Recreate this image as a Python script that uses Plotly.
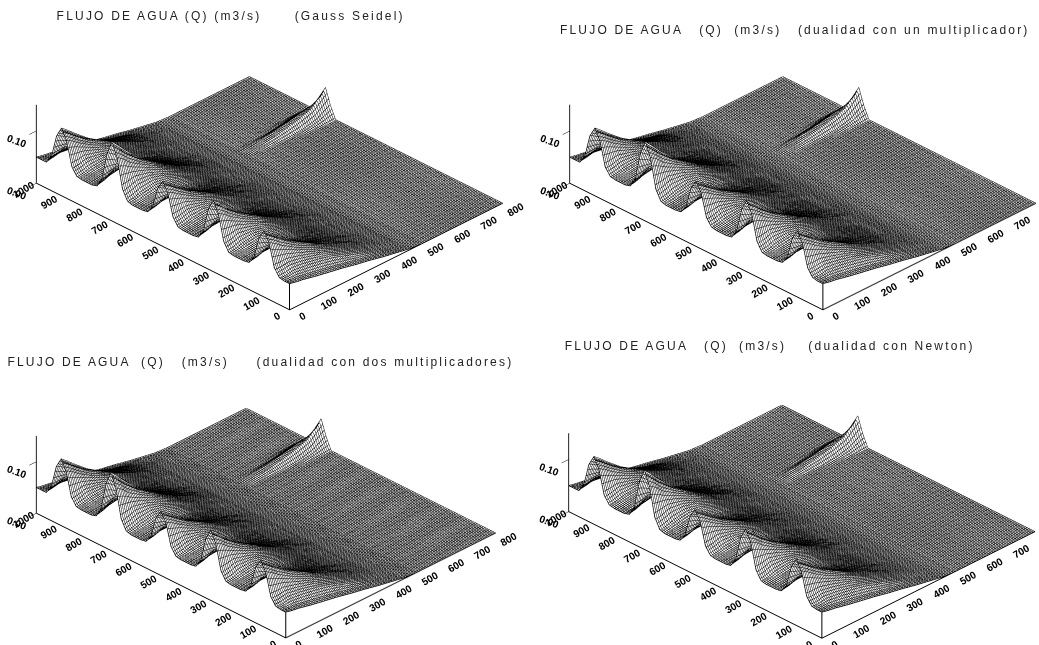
import numpy as np
import plotly.graph_objects as go

TITLES = [
    "FLUJO DE AGUA (Q) (m3/s)      (Gauss Seidel)",
    "FLUJO DE AGUA   (Q)  (m3/s)   (dualidad con un multiplicador)",
    "FLUJO DE AGUA  (Q)   (m3/s)     (dualidad con dos multiplicadores)",
    "FLUJO DE AGUA   (Q)  (m3/s)    (dualidad con Newton)",
]
X_GRID = [0, 25, 50, 100, 150, 200, 250, 300, 350, 400, 450, 500, 550, 600, 650, 700, 750, 800]
Y_GRID = list(range(0, 1001, 20))
X_TICKS = [0, 100, 200, 300, 400, 500, 600, 700, 800]
Y_TICKS = [0, 100, 200, 300, 400, 500, 600, 700, 800, 900, 1000]
Z_TICKS = [0.0, 0.10]
Z_TICK_TEXT = ["0.00", "0.10"]
STUB_Z = [0.0, 0.05]

# Q in thousandths of m3/s, one row per y value, one column per x value
Q_MILLI = [
    [50,47,45,39,34,29,23,18,12,7,2,0,0,0,0,0,0,0],
    [50,48,47,42,37,31,25,19,13,7,2,0,0,0,0,0,0,0],
    [52,52,55,52,47,41,32,23,14,7,2,0,0,0,0,0,0,0],
    [66,66,68,62,54,45,35,25,15,8,2,0,0,0,0,0,0,0],
    [108,100,90,74,61,49,37,26,16,8,2,0,0,0,0,0,0,0],
    [127,116,105,84,67,51,38,27,16,8,2,0,0,0,0,0,0,0],
    [108,100,91,75,62,50,38,26,16,8,2,0,0,0,0,0,0,0],
    [66,68,72,66,58,48,37,26,16,8,2,0,0,0,0,0,0,0],
    [52,54,58,60,55,47,36,25,15,8,2,0,0,0,0,0,0,0],
    [50,51,53,56,52,46,36,25,15,8,2,0,0,0,0,0,0,0],
    [50,50,52,55,52,46,36,25,15,8,2,0,0,0,0,0,0,0],
    [50,51,53,57,53,47,36,25,15,8,2,0,0,0,0,0,0,0],
    [52,54,59,62,57,48,37,25,15,8,2,0,0,0,0,0,0,0],
    [68,70,75,69,61,50,38,26,16,8,2,0,0,0,0,0,0,0],
    [115,107,96,80,66,52,39,27,16,8,2,0,0,0,0,0,0,0],
    [137,125,112,89,71,54,40,27,17,8,2,0,0,0,0,0,0,0],
    [115,107,96,80,66,52,39,27,16,8,2,0,0,0,0,0,0,0],
    [68,70,75,69,60,50,38,26,16,8,2,0,0,0,0,0,0,0],
    [52,55,59,62,56,48,37,25,15,8,2,0,0,0,0,0,0,0],
    [50,51,53,57,53,47,36,25,15,8,2,0,0,0,0,0,0,0],
    [50,50,52,55,52,46,36,25,15,8,2,0,0,0,0,0,0,0],
    [50,51,53,56,52,46,36,25,15,8,2,0,0,0,0,0,0,0],
    [52,54,58,60,55,47,36,25,15,8,2,0,0,0,0,0,0,0],
    [66,68,72,66,58,48,37,26,16,8,2,0,0,0,0,0,0,0],
    [107,100,91,75,62,50,38,26,16,8,2,0,0,0,0,0,0,0],
    [125,115,104,83,66,51,38,27,16,8,2,0,0,0,0,0,0,0],
    [107,100,91,75,62,50,38,26,16,8,2,0,0,0,0,0,0,0],
    [66,68,72,66,58,48,37,26,16,8,2,0,0,0,0,0,0,0],
    [52,54,58,60,55,47,36,25,15,8,2,0,0,0,0,0,0,0],
    [50,51,53,56,52,46,36,25,15,8,2,0,0,0,0,0,0,0],
    [50,50,52,55,52,46,36,25,15,8,2,0,0,0,0,0,0,0],
    [50,51,53,58,55,48,37,25,15,8,2,0,0,0,0,0,0,0],
    [53,56,61,65,60,50,38,26,16,8,2,0,0,0,0,0,0,0],
    [72,75,80,75,65,53,40,27,16,8,2,0,0,0,0,0,0,0],
    [125,116,103,87,72,56,41,28,17,8,2,0,0,0,0,2,8,22],
    [152,138,123,97,77,58,42,29,17,8,2,0,2,6,11,17,26,52],
    [125,116,103,87,72,56,41,28,17,8,2,0,2,6,10,15,20,24],
    [72,75,80,75,65,53,40,27,16,8,2,0,0,0,2,5,8,8],
    [53,56,61,65,60,50,38,26,16,8,2,0,0,0,0,0,0,0],
    [50,51,53,58,55,48,37,25,15,8,2,0,0,0,0,0,0,0],
    [50,50,52,55,52,46,36,25,15,8,2,0,0,0,0,0,0,0],
    [50,51,53,56,52,46,36,25,15,8,2,0,0,0,0,0,0,0],
    [52,54,58,60,55,47,36,25,15,8,2,0,0,0,0,0,0,0],
    [66,68,72,66,58,48,37,26,16,8,2,0,0,0,0,0,0,0],
    [110,102,92,76,63,50,38,26,16,8,2,0,0,0,0,0,0,0],
    [130,119,107,85,68,52,39,27,16,8,2,0,0,0,0,0,0,0],
    [110,102,92,76,63,50,38,26,16,8,2,0,0,0,0,0,0,0],
    [66,68,70,64,56,46,35,25,15,8,2,0,0,0,0,0,0,0],
    [50,52,55,54,49,42,32,23,14,7,2,0,0,0,0,0,0,0],
    [50,48,47,43,38,32,25,19,13,7,2,0,0,0,0,0,0,0],
    [50,47,45,39,34,29,23,18,12,7,2,0,0,0,0,0,0,0],
]

Q = np.array(Q_MILLI) / 1000.0

K = 2.5
PANELS = [
    dict(dom_x=[0, 0.53], dom_y=[0.5, 1.0], dx=-6.1, dy=7.5, scale=1.0),
    dict(dom_x=[0.5, 1.0], dom_y=[0.5, 1.0], dx=23, dy=7.5, scale=1.0),
    dict(dom_x=[0, 0.53], dom_y=[0.0, 0.5], dx=-9.6, dy=0, scale=0.985),
    dict(dom_x=[0.5, 1.0], dom_y=[0.0, 0.5], dx=22, dy=2, scale=1.0),
]
TITLE_POS = [(230, 16), (794, 30), (260, 362), (769, 346)]
S = 163.0
MESH_STEP = 6.25


def edge(fig, name, xs, ys, zs):
    fig.add_trace(go.Scatter3d(
        x=xs, y=ys, z=zs, scene=name, mode="lines",
        line=dict(color="black", width=1.5), hoverinfo="skip", showlegend=False,
    ))


fig = go.Figure()
layout = {}
for i, p in enumerate(PANELS):
    name = "scene" if i == 0 else f"scene{i + 1}"
    fig.add_trace(go.Surface(
        x=X_GRID, y=Y_GRID, z=Q, scene=name, showscale=False, hoverinfo="skip",
        colorscale=[[0, "white"], [1, "white"]],
        lighting=dict(ambient=1, diffuse=0, specular=0, fresnel=0, roughness=1),
        contours=dict(
            x=dict(show=True, start=0, end=801, size=MESH_STEP, color="black", width=2, highlight=False),
            y=dict(show=True, start=0, end=1001, size=MESH_STEP, color="black", width=2, highlight=False),
            z=dict(show=False, highlight=False),
        ),
    ))
    fig.add_trace(go.Scatter3d(
        x=[0, 0], y=[0, 0], z=STUB_Z, scene=name, mode="lines",
        line=dict(color="black", width=2), hoverinfo="skip", showlegend=False,
    ))
    edge(fig, name, [0] * len(Y_GRID), Y_GRID, Q[:, 0])
    edge(fig, name, [800] * len(Y_GRID), Y_GRID, Q[:, -1])
    edge(fig, name, X_GRID, [0] * len(X_GRID), Q[0, :])
    edge(fig, name, X_GRID, [1000] * len(X_GRID), Q[-1, :])
    d = p["dx"] / S / np.sqrt(2)
    cz = -p["dy"] / S / np.cos(np.radians(30))
    cx, cy = -d, d
    eye = dict(x=cx - K, y=cy - K, z=cz + K * 0.8165)
    tick_font = dict(family="Liberation Sans", size=11, color="black", weight="bold")
    common = dict(
        showbackground=False, showgrid=False, zeroline=False, showspikes=False,
        showline=True, linecolor="black", linewidth=2,
        tickcolor="black", tickfont=tick_font, title=dict(text=""), autorange=False,
    )
    sc = p["scale"]
    layout[name] = dict(
        domain=dict(x=p["dom_x"], y=p["dom_y"]),
        aspectmode="manual",
        aspectratio=dict(x=1.866 * sc, y=2.217 * sc, z=0.56 * sc),
        camera=dict(
            projection=dict(type="orthographic"),
            center=dict(x=cx, y=cy, z=cz), eye=eye, up=dict(x=0, y=0, z=1),
        ),
        xaxis=dict(common, range=[0, 800], tickmode="array", tickvals=X_TICKS, ticks="",
                   ticktext=[str(v) for v in X_TICKS], tickangle=-30),
        yaxis=dict(common, range=[0, 1000], tickmode="array", tickvals=Y_TICKS, ticks="",
                   ticktext=[str(v) for v in Y_TICKS], tickangle=-30),
        zaxis=dict(common, range=[0, 0.15], tickmode="array", tickvals=Z_TICKS, ticks="outside", ticklen=3,
                   ticktext=Z_TICK_TEXT, tickangle=20),
    )

annotations = [
    dict(text=t, xref="paper", yref="paper", x=px / 1039, y=1 - py / 645,
         xanchor="center", yanchor="middle", showarrow=False,
         font=dict(family="Liberation Sans", size=12, color="#222222"))
    for t, (px, py) in zip(TITLES, TITLE_POS)
]

fig.update_layout(
    width=1039, height=645, margin=dict(l=0, r=0, t=0, b=0),
    paper_bgcolor="white", showlegend=False, annotations=annotations, **layout,
)
fig.write_html("out.html", config=dict(displayModeBar=False), post_script=(
    "document.body.style.margin='0';document.body.style.overflow='hidden';"
    "document.querySelectorAll('.annotation-text').forEach(function(t){t.style.letterSpacing='2.2px';});"
))
